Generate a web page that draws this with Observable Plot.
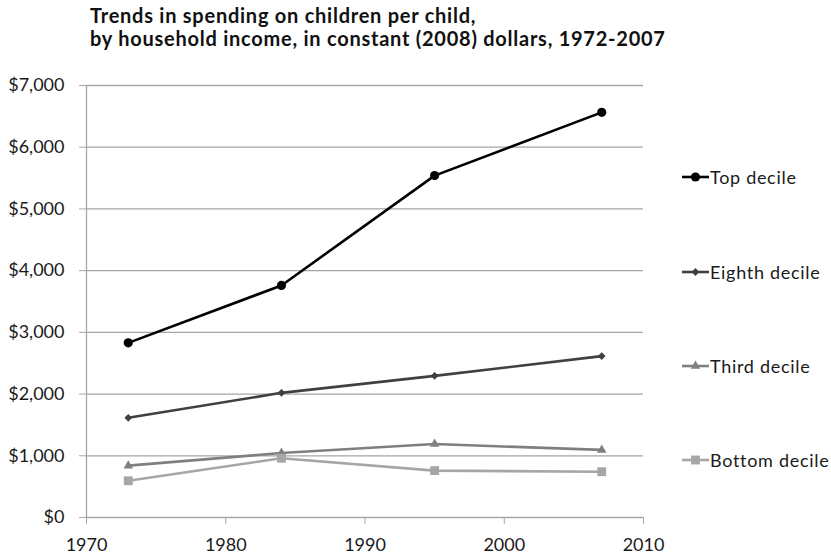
<!DOCTYPE html>
<html>
<head>
<meta charset="utf-8">
<script src="https://cdn.jsdelivr.net/npm/d3@7"></script>
<script src="https://cdn.jsdelivr.net/npm/@observablehq/plot@0.6"></script>
<style>
  html, body { margin: 0; padding: 0; background: #fff; }
  #wrap { position: relative; width: 831px; height: 555px; overflow: hidden; font-family: Lato, "Open Sans", sans-serif; }
  #title { position: absolute; left: 90px; top: 4px; font-weight: 700; font-size: 20px; letter-spacing: 0.75px; line-height: 23px; color: #111; white-space: nowrap; }
  #chart { position: absolute; left: 0; top: 70px; }
  .legend-item { position: absolute; left: 682px; height: 24px; display: flex; align-items: center; font-size: 18px; letter-spacing: 0.7px; color: #1a1a1a; white-space: nowrap; }
  .legend-item svg { display: block; margin-right: 1px; }
</style>
</head>
<body>
<div id="wrap">
  <div id="title">Trends in spending on children per child,<br>by household income, in constant (2008) dollars, 1972-2007</div>
  <div id="chart"></div>
</div>
<script>
// Survey years and per-child spending (2008 dollars) for each income decile
const years = [1973, 1984, 1995, 2007];
const topDecile = [2830, 3760, 5540, 6565];
const eighthDecile = [1615, 2020, 2295, 2615];
const thirdDecile = [840, 1045, 1190, 1095];
const bottomDecile = [595, 960, 760, 742];

const seriesNames = ["Top decile", "Eighth decile", "Third decile", "Bottom decile"];
const seriesValues = [topDecile, eighthDecile, thirdDecile, bottomDecile];
const seriesColors = ["#000000", "#404040", "#7f7f7f", "#a6a6a6"];
const seriesSymbols = ["circle", "diamond2", "triangle", "square"];
const seriesRadius = [4.6, 3.5, 3.5, 5];

const yTicks = [0, 1000, 2000, 3000, 4000, 5000, 6000, 7000];
const xTicks = [1970, 1980, 1990, 2000, 2010];

// Long-format rows for each series
const series = seriesNames.map((name, i) => ({
  name,
  color: seriesColors[i],
  symbol: seriesSymbols[i],
  r: seriesRadius[i],
  rows: years.map((year, j) => ({series: name, year, value: seriesValues[i][j]}))
}));

const gridColor = "#a6a6a6";

const marks = [
  Plot.ruleY(yTicks.filter(d => d > 0), {stroke: gridColor, strokeWidth: 1.3}),
  Plot.ruleX([1970], {y1: 0, y2: 7000, stroke: gridColor, strokeWidth: 1.3}),
  Plot.ruleY([0], {stroke: gridColor, strokeWidth: 1.3}),
  Plot.axisY({ticks: yTicks, tickFormat: d3.format("$,"), tickSize: 7, tickPadding: 15,
    stroke: gridColor, fill: "#1a1a1a", label: null}),
  Plot.axisX({ticks: xTicks, tickFormat: "d", tickSize: 7, tickPadding: 14,
    stroke: gridColor, fill: "#1a1a1a", label: null})
];

for (const s of series) {
  marks.push(Plot.line(s.rows, {x: "year", y: "value", stroke: s.color, strokeWidth: 2.6}));
  marks.push(Plot.dot(s.rows, {x: "year", y: "value", symbol: s.symbol, fill: s.color, stroke: "none", r: s.r}));
}

const chart = Plot.plot({
  width: 831,
  height: 485,
  marginTop: 15,
  marginBottom: 38,
  marginLeft: 86,
  marginRight: 188,
  style: {fontFamily: "Lato, 'Open Sans', sans-serif", fontSize: "18px", background: "#fff", color: "#1a1a1a"},
  x: {domain: [1970, 2010]},
  y: {domain: [0, 7000]},
  marks
});
document.getElementById("chart").appendChild(chart);

// Legend on the right: line swatch with marker, then label
const symbolMap = {circle: d3.symbolCircle, diamond2: d3.symbolDiamond2, triangle: d3.symbolTriangle, square: d3.symbolSquare};
const legendCenters = [177, 272, 366, 460];
const wrap = document.getElementById("wrap");
series.forEach((s, i) => {
  const item = document.createElement("div");
  item.className = "legend-item";
  item.style.top = (legendCenters[i] - 12) + "px";
  const sw = d3.create("svg").attr("width", 27).attr("height", 14);
  sw.append("line").attr("x1", 0).attr("x2", 27).attr("y1", 7).attr("y2", 7)
    .attr("stroke", s.color).attr("stroke-width", 2.6);
  sw.append("path").attr("transform", "translate(13.5,7)")
    .attr("d", d3.symbol(symbolMap[s.symbol], s.r * s.r * Math.PI)())
    .attr("fill", s.color);
  item.appendChild(sw.node());
  const label = document.createElement("span");
  label.textContent = s.name;
  item.appendChild(label);
  wrap.appendChild(item);
});
</script>
</body>
</html>
